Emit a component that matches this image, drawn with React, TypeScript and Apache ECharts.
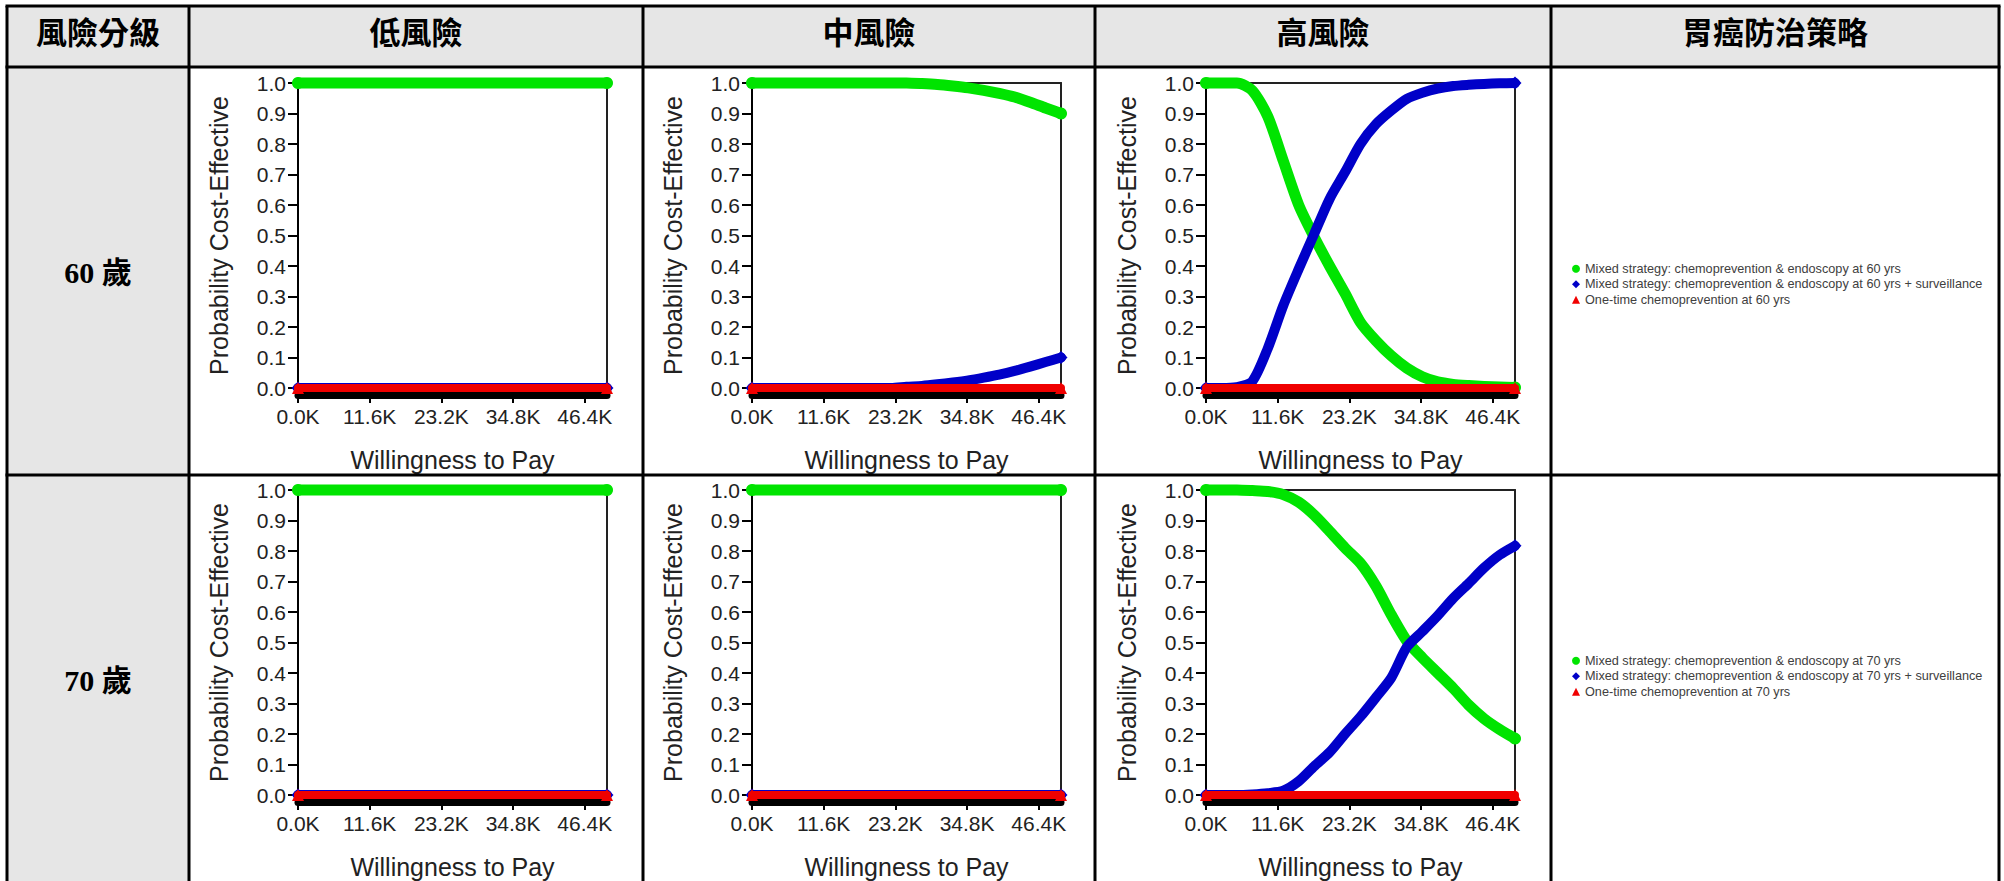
import React, { useEffect, useRef } from "react";
import * as echarts from "echarts";

// ---------- data ----------
const WTP = [0, 2500, 5000, 7500, 10000, 12500, 15000, 17500, 20000, 22500, 25000, 27500, 30000, 32500, 35000, 37500, 40000, 42500, 45000, 47500, 50000];
const X_TICKS = [0, 11600, 23200, 34800, 46400];
const Y_TICKS = [0, 0.1, 0.2, 0.3, 0.4, 0.5, 0.6, 0.7, 0.8, 0.9, 1.0];

const HEADERS = ["風險分級", "低風險", "中風險", "高風險", "胃癌防治策略"];
const ROW_LABELS = ["60 歲", "70 歲"];
const STRATEGIES_60 = [
  "Mixed strategy: chemoprevention & endoscopy at 60 yrs",
  "Mixed strategy: chemoprevention & endoscopy at 60 yrs + surveillance",
  "One-time chemoprevention at 60 yrs",
];
const STRATEGIES_70 = [
  "Mixed strategy: chemoprevention & endoscopy at 70 yrs",
  "Mixed strategy: chemoprevention & endoscopy at 70 yrs + surveillance",
  "One-time chemoprevention at 70 yrs",
];

// 60 yrs
const LOW60_MIXED = [1, 1, 1, 1, 1, 1, 1, 1, 1, 1, 1, 1, 1, 1, 1, 1, 1, 1, 1, 1, 1];
const LOW60_SURV = [0, 0, 0, 0, 0, 0, 0, 0, 0, 0, 0, 0, 0, 0, 0, 0, 0, 0, 0, 0, 0];
const LOW60_ONCE = [0, 0, 0, 0, 0, 0, 0, 0, 0, 0, 0, 0, 0, 0, 0, 0, 0, 0, 0, 0, 0];
const MID60_MIXED = [1, 1, 1, 1, 1, 1, 1, 1, 1, 1, 1, 0.998, 0.995, 0.99, 0.984, 0.976, 0.966, 0.954, 0.937, 0.918, 0.9];
const MID60_SURV = [0, 0, 0, 0, 0, 0, 0, 0, 0, 0, 0.004, 0.007, 0.012, 0.018, 0.025, 0.034, 0.044, 0.056, 0.07, 0.085, 0.1];
const MID60_ONCE = [0, 0, 0, 0, 0, 0, 0, 0, 0, 0, 0, 0, 0, 0, 0, 0, 0, 0, 0, 0, 0];
const HIGH60_MIXED = [1, 1, 1, 0.975, 0.89, 0.745, 0.6, 0.495, 0.4, 0.31, 0.215, 0.155, 0.105, 0.065, 0.037, 0.02, 0.012, 0.008, 0.005, 0.003, 0.002];
const HIGH60_SURV = [0, 0, 0.003, 0.022, 0.13, 0.27, 0.39, 0.505, 0.62, 0.708, 0.8, 0.865, 0.91, 0.948, 0.968, 0.982, 0.99, 0.994, 0.997, 0.999, 1.0];
const HIGH60_ONCE = [0, 0, 0, 0, 0, 0, 0, 0, 0, 0, 0, 0, 0, 0, 0, 0, 0, 0, 0, 0, 0];

// 70 yrs
const LOW70_MIXED = [1, 1, 1, 1, 1, 1, 1, 1, 1, 1, 1, 1, 1, 1, 1, 1, 1, 1, 1, 1, 1];
const LOW70_SURV = [0, 0, 0, 0, 0, 0, 0, 0, 0, 0, 0, 0, 0, 0, 0, 0, 0, 0, 0, 0, 0];
const LOW70_ONCE = [0, 0, 0, 0, 0, 0, 0, 0, 0, 0, 0, 0, 0, 0, 0, 0, 0, 0, 0, 0, 0];
const MID70_MIXED = [1, 1, 1, 1, 1, 1, 1, 1, 1, 1, 1, 1, 1, 1, 1, 1, 1, 1, 1, 1, 1];
const MID70_SURV = [0, 0, 0, 0, 0, 0, 0, 0, 0, 0, 0, 0, 0, 0, 0, 0, 0, 0, 0, 0, 0];
const MID70_ONCE = [0, 0, 0, 0, 0, 0, 0, 0, 0, 0, 0, 0, 0, 0, 0, 0, 0, 0, 0, 0, 0];
const HIGH70_MIXED = [1, 1, 1, 0.998, 0.995, 0.985, 0.96, 0.918, 0.865, 0.81, 0.76, 0.685, 0.59, 0.505, 0.45, 0.4, 0.35, 0.295, 0.25, 0.215, 0.185];
const HIGH70_SURV = [0, 0, 0, 0.002, 0.006, 0.014, 0.045, 0.094, 0.14, 0.2, 0.257, 0.32, 0.385, 0.485, 0.536, 0.588, 0.645, 0.694, 0.745, 0.787, 0.817];
const HIGH70_ONCE = [0, 0, 0, 0, 0, 0, 0, 0, 0, 0, 0, 0, 0, 0, 0, 0, 0, 0, 0, 0, 0];

const PANELS = [
  { row: 0, col: 0, names: STRATEGIES_60, values: [LOW60_MIXED, LOW60_SURV, LOW60_ONCE] },
  { row: 0, col: 1, names: STRATEGIES_60, values: [MID60_MIXED, MID60_SURV, MID60_ONCE] },
  { row: 0, col: 2, names: STRATEGIES_60, values: [HIGH60_MIXED, HIGH60_SURV, HIGH60_ONCE] },
  { row: 1, col: 0, names: STRATEGIES_70, values: [LOW70_MIXED, LOW70_SURV, LOW70_ONCE] },
  { row: 1, col: 1, names: STRATEGIES_70, values: [MID70_MIXED, MID70_SURV, MID70_ONCE] },
  { row: 1, col: 2, names: STRATEGIES_70, values: [HIGH70_MIXED, HIGH70_SURV, HIGH70_ONCE] },
];

// ---------- styles ----------
const COLORS = ["#00e400", "#0000c8", "#f00000"];
const ICONS = ["circle", "diamond", "triangle"];
const LINE_W = [11, 10, 8];
const SYM_SIZE = [12, 13, 12];
const SERIES_Z = [2, 3, 6];
const SANS = '"Liberation Sans", Arial, sans-serif';
const CJK = '"Noto Sans CJK TC", "Noto Sans CJK SC", sans-serif';
const ROWLBL_FONT = '"Liberation Serif", "Noto Sans CJK TC", serif';

export default function App() {
  const ref = useRef<HTMLDivElement>(null);

  useEffect(() => {
    if (!ref.current) return;
    const chart = echarts.init(ref.current, null, { renderer: "svg" });

    const colX = [7, 189, 643, 1095, 1551, 1999];
    const rowY = [6, 67, 475, 884];
    const gridLeft = [298, 752, 1206];
    const gridTop = [83, 490];
    const gridW = 309;
    const gridH = 305;

    const grids: any[] = [];
    const xAxes: any[] = [];
    const yAxes: any[] = [];
    const series: any[] = [];

    PANELS.forEach((p, k) => {
      grids.push({
        left: gridLeft[p.col],
        top: gridTop[p.row],
        width: gridW,
        height: gridH,
        show: false,
        containLabel: false,
        outerBoundsMode: "none",
      });
      // bottom axis (thick black band just below zero)
      xAxes.push({
        type: "value",
        gridIndex: k,
        position: "bottom",
        offset: 7,
        z: 4,
        min: 0,
        max: 50000,
        name: "Willingness to Pay",
        nameLocation: "middle",
        nameGap: 52,
        nameTextStyle: { fontSize: 25, color: "#222", fontFamily: SANS },
        axisLine: { show: true, onZero: false, lineStyle: { color: "#000", width: 7 } },
        axisTick: { show: true, length: 8, lineStyle: { color: "#000", width: 2 }, customValues: X_TICKS },
        axisLabel: {
          show: true,
          margin: 11,
          fontSize: 21,
          color: "#222",
          fontFamily: SANS,
          customValues: X_TICKS,
          formatter: (v: number) => (v / 1000).toFixed(1) + "K",
        },
        splitLine: { show: false },
      });
      // top frame axis
      xAxes.push({
        type: "value",
        gridIndex: k,
        position: "top",
        min: 0,
        max: 50000,
        z: 1,
        axisLine: { show: true, onZero: false, lineStyle: { color: "#222", width: 2 } },
        axisTick: { show: false },
        axisLabel: { show: false },
        splitLine: { show: false },
      });
      yAxes.push({
        type: "value",
        gridIndex: k,
        position: "left",
        min: 0,
        max: 1,
        interval: 0.1,
        name: "Probability Cost-Effective",
        nameLocation: "middle",
        nameGap: 67,
        nameTextStyle: { fontSize: 25, color: "#222", fontFamily: SANS },
        axisLine: { show: true, onZero: false, lineStyle: { color: "#000", width: 2 } },
        axisTick: { show: true, length: 10, lineStyle: { color: "#000", width: 2 }, customValues: Y_TICKS },
        axisLabel: {
          show: true,
          margin: 12,
          fontSize: 21,
          color: "#222",
          fontFamily: SANS,
          customValues: Y_TICKS,
          formatter: (v: number) => v.toFixed(1),
        },
        splitLine: { show: false },
      });
      yAxes.push({
        type: "value",
        gridIndex: k,
        position: "right",
        min: 0,
        max: 1,
        interval: 0.1,
        z: 1,
        axisLine: { show: true, onZero: false, lineStyle: { color: "#222", width: 2 } },
        axisTick: { show: false },
        axisLabel: { show: false },
        splitLine: { show: false },
      });

      p.values.forEach((vals, j) => {
        series.push({
          type: "line",
          name: p.names[j],
          xAxisIndex: 2 * k,
          yAxisIndex: 2 * k,
          data: WTP.map((x, i) => ({
            value: [x, vals[i]],
            symbol: i === 0 || i === WTP.length - 1 ? ICONS[j] : "none",
          })),
          showSymbol: true,
          showAllSymbol: true,
          symbolSize: SYM_SIZE[j],
          smooth: 0.25,
          clip: false,
          silent: true,
          z: SERIES_Z[j],
          lineStyle: { color: COLORS[j], width: LINE_W[j], cap: "round", join: "round" },
          itemStyle: { color: COLORS[j] },
          emphasis: { disabled: true },
        });
      });
    });

    const graphic: any[] = [];
    graphic.push({
      type: "rect",
      z: -10,
      shape: { x: colX[0], y: rowY[0], width: colX[5] - colX[0], height: rowY[1] - rowY[0] },
      style: { fill: "#e6e6e6" },
    });
    graphic.push({
      type: "rect",
      z: -10,
      shape: { x: colX[0], y: rowY[1], width: colX[1] - colX[0], height: rowY[3] - rowY[1] },
      style: { fill: "#e6e6e6" },
    });
    for (let r = 0; r < 3; r++) {
      graphic.push({
        type: "line",
        z: 20,
        shape: { x1: colX[0] - 1.5, y1: rowY[r], x2: colX[5] + 1.5, y2: rowY[r] },
        style: { stroke: "#000", lineWidth: 3 },
      });
    }
    for (let c = 0; c < colX.length; c++) {
      graphic.push({
        type: "line",
        z: 20,
        shape: { x1: colX[c], y1: rowY[0], x2: colX[c], y2: rowY[3] },
        style: { stroke: "#000", lineWidth: 3 },
      });
    }
    HEADERS.forEach((h, i) => {
      graphic.push({
        type: "text",
        z: 20,
        x: (colX[i] + colX[i + 1]) / 2,
        y: 30,
        style: {
          text: h,
          fontSize: 31,
          fontWeight: "bold",
          fontFamily: CJK,
          fill: "#000",
          align: "center",
          verticalAlign: "middle",
        },
      });
    });
    const rowLabelY = [272, 680];
    ROW_LABELS.forEach((t, i) => {
      graphic.push({
        type: "text",
        z: 20,
        x: (colX[0] + colX[1]) / 2,
        y: rowLabelY[i],
        style: {
          text: t,
          fontSize: 30,
          fontWeight: "bold",
          fontFamily: ROWLBL_FONT,
          fill: "#000",
          align: "center",
          verticalAlign: "middle",
        },
      });
    });

    const legendBase = {
      orient: "vertical",
      left: 1572,
      padding: 0,
      itemGap: 0,
      itemWidth: 8,
      itemHeight: 8,
      selectedMode: false,
      textStyle: { fontSize: 12.7, color: "#404040", fontFamily: SANS, lineHeight: 15.5 },
    };

    chart.setOption({
      animation: false,
      backgroundColor: "#fff",
      grid: grids,
      xAxis: xAxes,
      yAxis: yAxes,
      series,
      graphic,
      legend: [
        { ...legendBase, top: 261, data: STRATEGIES_60.map((n, i) => ({ name: n, icon: ICONS[i] })) },
        { ...legendBase, top: 653, data: STRATEGIES_70.map((n, i) => ({ name: n, icon: ICONS[i] })) },
      ],
    });

    return () => chart.dispose();
  }, []);

  return <div ref={ref} style={{ position: "fixed", left: 0, top: 0, width: 2004, height: 881 }} />;
}
